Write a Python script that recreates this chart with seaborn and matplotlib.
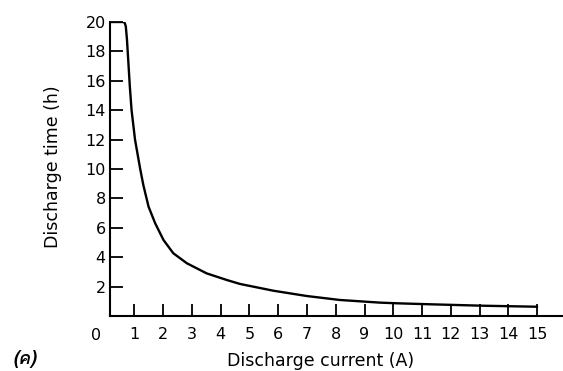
import matplotlib
matplotlib.use("Agg")
import matplotlib.pyplot as plt
from matplotlib import font_manager
from matplotlib.ft2font import FT2Font
import seaborn as sns
import pandas as pd

# Discharge curve
current_a = [0.17, 0.60, 0.66, 0.70, 0.74, 0.79, 0.84, 0.90, 1.02, 1.20,
             1.31, 1.49, 1.72, 2.01, 2.35, 2.82, 3.51, 4.21, 4.67, 5.83,
             6.99, 8.14, 9.53, 10.2, 11.4, 13.1, 15.0]
time_h = [20.0, 20.0, 19.95, 19.7, 18.8, 17.2, 15.6, 14.0, 12.0, 10.0,
          8.9, 7.44, 6.31, 5.17, 4.27, 3.59, 2.90, 2.45, 2.18, 1.72,
          1.36, 1.09, 0.91, 0.86, 0.79, 0.70, 0.63]

x_ticks = list(range(1, 16))
y_ticks = list(range(2, 21, 2))
panel_tag = "(ค)"

df = pd.DataFrame({"current": current_a, "time": time_h})


def find_font_for(ch):
    # look for any installed font that has this glyph
    for f in font_manager.fontManager.ttflist:
        try:
            if ord(ch) in FT2Font(f.fname).get_charmap():
                return f.name
        except Exception:
            pass
    return None


sns.set_style("white")
plt.rcParams["font.family"] = ["DejaVu Sans"]
plt.rcParams["text.color"] = "black"
plt.rcParams["axes.labelcolor"] = "black"
plt.rcParams["xtick.color"] = "black"
plt.rcParams["ytick.color"] = "black"

fig = plt.figure(figsize=(5.63, 3.71), dpi=100, facecolor="white")
ax = fig.add_axes([110 / 563, 55 / 371, 453 / 563, 294 / 371])

sns.lineplot(data=df, x="current", y="time", color="black",
             linewidth=1.7, ax=ax, sort=False)

ax.set_xlim(0.15, 15.9)
ax.set_ylim(0, 20)
ax.set_xticks(x_ticks)
ax.set_yticks(y_ticks)
ax.tick_params(direction="in", length=9, width=1.3, labelsize=11.5,
               bottom=True, left=True, colors="black")
ax.tick_params(axis="x", pad=8)
ax.tick_params(axis="y", pad=3)

for side in ["top", "right"]:
    ax.spines[side].set_visible(False)
for side in ["left", "bottom"]:
    ax.spines[side].set_color("black")
    ax.spines[side].set_linewidth(1.5)

# origin label sits below-left of the corner
fig.text(96 / 563, 1 - 336 / 371, "0", ha="center", va="center", fontsize=11.5)

ax.set_xlabel("Discharge current (A)", fontsize=12.5)
ax.set_ylabel("Discharge time (h)", fontsize=12.5)
ax.xaxis.set_label_coords(0.465, -0.122)
ax.yaxis.set_label_coords(-0.106, 0.507)

thai = find_font_for("ค")
fams = [thai, "DejaVu Sans"] if thai else ["DejaVu Sans"]
fig.text(25 / 563, 1 - 359 / 371, panel_tag, ha="center", va="center",
         fontsize=13, fontweight="bold", fontstyle="italic", family=fams)

fig.savefig("out.png", dpi=100, facecolor="white")
plt.close(fig)
